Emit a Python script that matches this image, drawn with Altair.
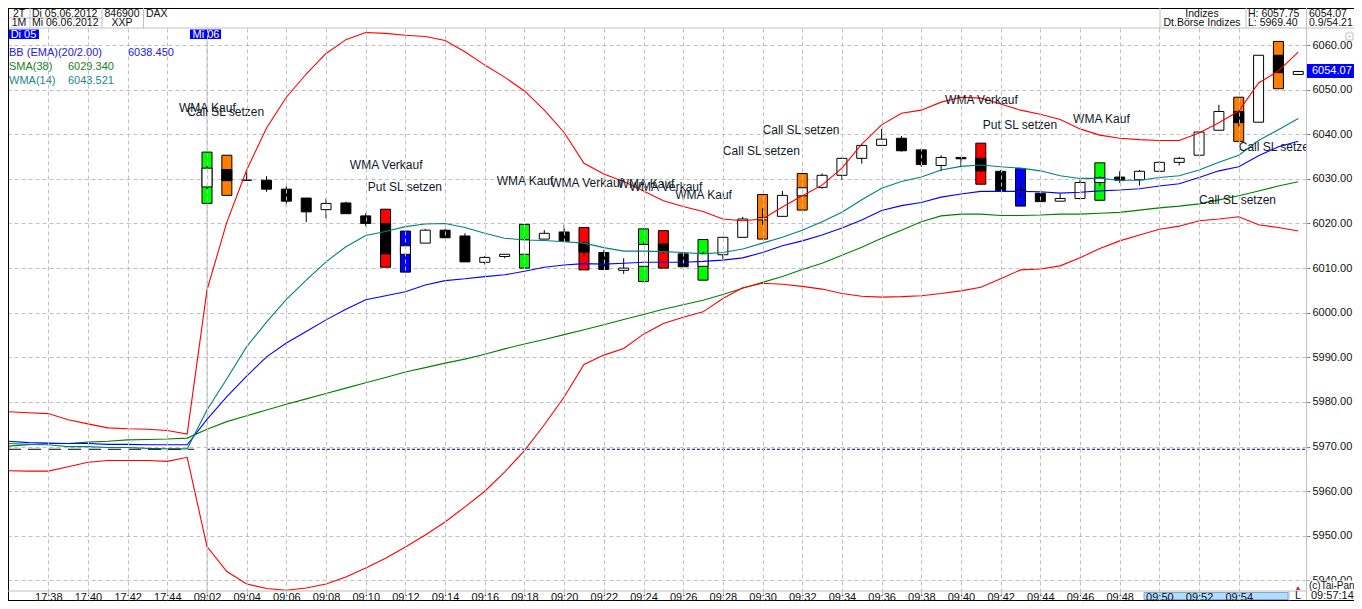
import altair as alt
import pandas as pd

FONT = "Liberation Sans"

# time axis: gaps over night are squeezed out, so bars are addressed by index
tick_values = list(range(-8, 54, 2))
tick_labels = [
    "17:38", "17:40", "17:42", "17:44", "09:02", "09:04", "09:06", "09:08",
    "09:10", "09:12", "09:14", "09:16", "09:18", "09:20", "09:22", "09:24",
    "09:26", "09:28", "09:30", "09:32", "09:34", "09:36", "09:38", "09:40",
    "09:42", "09:44", "09:46", "09:48", "09:50", "09:52", "09:54",
]
price_ticks = list(range(5940, 6070, 10))

line_index = list(range(-10, 56))
bb_upper = [
    5977.8, 5977.6, 5977.4, 5976.0, 5975.1, 5974.2, 5974.0, 5973.9, 5973.6, 5972.8,
    6005.1, 6020.3, 6032.0, 6041.4, 6048.3, 6053.5, 6058.1, 6061.2, 6062.8, 6062.6,
    6062.2, 6061.9, 6061.0, 6058.5, 6055.5, 6052.8, 6049.7, 6045.4, 6040.4, 6033.5,
    6031.1, 6029.4, 6027.3, 6025.1, 6023.8, 6022.7, 6021.0, 6020.6, 6021.0, 6023.7,
    6026.2, 6028.6, 6032.4, 6037.8, 6042.1, 6044.7, 6045.4, 6047.2, 6048.3, 6048.1,
    6046.8, 6045.4, 6044.5, 6043.3, 6041.2, 6039.8, 6039.1, 6038.8, 6038.6, 6038.6,
    6040.3, 6042.6, 6045.2, 6051.5, 6054.2, 6058.4,
]
bb_lower = [
    5964.6, 5964.5, 5964.5, 5965.5, 5966.5, 5966.9, 5966.9, 5966.9, 5966.7, 5967.6,
    5947.6, 5942.0, 5939.2, 5938.2, 5937.8, 5938.3, 5939.2, 5940.8, 5942.8, 5945.0,
    5947.5, 5950.2, 5953.1, 5956.5, 5960.0, 5964.3, 5969.1, 5974.9, 5981.1, 5988.4,
    5990.5, 5992.0, 5995.2, 5997.6, 5999.0, 6000.2, 6003.2, 6005.6, 6006.6, 6006.4,
    6005.9, 6005.3, 6004.3, 6003.7, 6003.5, 6003.6, 6003.8, 6004.3, 6004.9, 6005.7,
    6007.6, 6009.6, 6009.8, 6010.5, 6012.3, 6014.4, 6016.1, 6017.4, 6018.7, 6019.4,
    6020.6, 6021.0, 6021.5, 6019.7, 6019.1, 6018.3,
]
bb_mid = [
    5971.2, 5970.9, 5970.8, 5970.7, 5970.7, 5970.5, 5970.5, 5970.4, 5970.4, 5970.4,
    5976.1, 5981.2, 5985.8, 5990.1, 5993.2, 5995.8, 5998.4, 6000.8, 6002.9, 6003.8,
    6004.7, 6006.2, 6007.2, 6007.6, 6008.1, 6008.5, 6009.3, 6010.2, 6010.7, 6011.0,
    6010.9, 6011.1, 6011.3, 6011.3, 6011.3, 6011.5, 6011.8, 6012.3, 6013.5, 6015.0,
    6016.1, 6017.4, 6019.0, 6020.8, 6022.9, 6024.0, 6024.7, 6025.9, 6026.6, 6027.2,
    6027.2, 6027.2, 6027.1, 6026.8, 6027.0, 6027.3, 6027.5, 6027.8, 6028.4, 6028.9,
    6030.3, 6031.8, 6032.7, 6035.2, 6037.2, 6038.45,
]
wma14 = [
    5970.7, 5970.5, 5970.4, 5970.0, 5970.0, 5969.8, 5969.8, 5969.6, 5969.5, 5969.5,
    5978.2, 5985.2, 5992.4, 5997.9, 6003.0, 6007.3, 6011.4, 6014.8, 6017.3, 6018.2,
    6019.3, 6019.9, 6020.0, 6019.1, 6017.8, 6016.7, 6016.3, 6016.2, 6015.9, 6015.6,
    6014.6, 6013.8, 6013.8, 6013.7, 6013.5, 6013.2, 6013.5, 6014.3, 6015.6, 6016.9,
    6018.5, 6020.4, 6022.5, 6025.3, 6027.9, 6029.4, 6030.4, 6032.0, 6032.8, 6033.1,
    6032.7, 6032.4, 6031.8, 6030.7, 6030.1, 6030.1, 6029.7, 6029.7, 6030.3, 6030.7,
    6032.0, 6033.7, 6035.3, 6038.6, 6041.0, 6043.52,
]
sma38 = [
    5970.1, 5970.4, 5970.7, 5970.7, 5971.0, 5971.2, 5971.5, 5971.6, 5971.7, 5971.9,
    5973.9, 5975.6, 5976.9, 5978.2, 5979.5, 5980.7, 5981.9, 5983.1, 5984.3, 5985.5,
    5986.7, 5987.7, 5988.7, 5989.6, 5990.7, 5991.9, 5993.0, 5994.0, 5995.1, 5996.2,
    5997.3, 5998.5, 5999.6, 6000.8, 6001.8, 6002.8, 6004.1, 6005.5, 6006.8, 6008.1,
    6009.7, 6011.1, 6012.9, 6014.7, 6016.7, 6018.5, 6020.4, 6021.7, 6022.1, 6022.1,
    6021.8, 6021.8, 6021.9, 6022.1, 6022.1, 6022.3, 6022.5, 6023.0, 6023.5, 6023.9,
    6024.4, 6025.3, 6026.2, 6027.3, 6028.4, 6029.34,
]

bar_open = [
    6028.2, 6032.1, 6029.7, 6029.7, 6027.7, 6025.7, 6023.1, 6024.6, 6021.7, 6020.0,
    6013.1, 6015.6, 6018.5, 6017.2, 6011.3, 6012.6, 6013.1, 6016.5, 6018.1, 6015.6,
    6013.5, 6009.5, 6010.4, 6015.4, 6013.2, 6010.4, 6013.0, 6016.9, 6020.8, 6021.6,
    6026.2, 6028.1, 6030.8, 6034.6, 6037.5, 6039.1, 6036.5, 6033.0, 6034.8, 6034.6,
    6031.7, 6027.5, 6026.8, 6025.0, 6025.6, 6029.2, 6030.4, 6029.8, 6031.7, 6033.7,
    6035.3, 6040.9, 6045.1, 6042.7, 6057.7, 6053.4,
]
bar_close = [
    6032.4, 6029.6, 6029.7, 6027.7, 6025.0, 6022.6, 6024.5, 6022.2, 6020.0, 6013.2,
    6015.0, 6018.5, 6016.8, 6011.4, 6012.4, 6013.1, 6016.4, 6017.8, 6016.0, 6013.6,
    6009.7, 6010.0, 6015.3, 6013.7, 6010.3, 6013.3, 6016.9, 6021.0, 6021.3, 6026.3,
    6028.0, 6030.8, 6034.6, 6037.5, 6038.9, 6036.3, 6033.2, 6034.8, 6034.5, 6031.8,
    6027.3, 6027.4, 6024.9, 6025.6, 6029.2, 6030.3, 6029.7, 6031.7, 6033.7, 6034.6,
    6040.5, 6045.1, 6042.6, 6057.7, 6053.8, 6054.07,
]
bar_high = [
    6032.9, 6032.1, 6031.5, 6030.6, 6028.4, 6025.7, 6025.6, 6024.9, 6022.3, 6020.0,
    6015.6, 6018.8, 6018.8, 6017.8, 6012.7, 6013.1, 6016.7, 6018.5, 6019.7, 6016.1,
    6014.1, 6012.2, 6015.9, 6015.4, 6013.6, 6013.6, 6017.0, 6021.5, 6023.4, 6027.3,
    6028.0, 6031.2, 6034.8, 6037.8, 6041.2, 6039.6, 6036.8, 6035.3, 6034.8, 6034.8,
    6032.0, 6029.4, 6026.8, 6026.7, 6029.7, 6030.6, 6031.7, 6032.0, 6034.0, 6034.9,
    6040.5, 6046.6, 6045.4, 6057.75, 6057.7, 6054.07,
]
bar_low = [
    6027.7, 6029.6, 6029.7, 6027.1, 6023.9, 6020.3, 6021.1, 6022.2, 6019.4, 6013.2,
    6012.3, 6015.6, 6016.8, 6011.4, 6010.8, 6012.2, 6013.1, 6016.5, 6016.0, 6012.7,
    6009.6, 6008.7, 6010.4, 6013.2, 6010.3, 6010.4, 6012.0, 6016.9, 6019.7, 6021.6,
    6026.2, 6027.8, 6029.7, 6033.4, 6037.5, 6036.1, 6032.7, 6031.7, 6032.6, 6031.5,
    6027.3, 6025.9, 6024.9, 6025.0, 6025.4, 6028.4, 6029.1, 6028.5, 6031.7, 6033.0,
    6035.3, 6040.9, 6041.7, 6042.7, 6053.8, 6053.4,
]

# signals: the coloured box behind a bar and the note written near it
signal_index = [0, 1, 9, 10, 16, 19, 22, 23, 25, 28, 30, 39, 41, 45, 52, 54]
signal_top = [
    6036.0, 6035.3, 6023.2, 6018.3, 6019.8, 6019.1, 6018.8, 6018.4,
    6016.4, 6026.5, 6031.2, 6038.0, 6032.3, 6033.6, 6048.3, 6060.8,
]
signal_bottom = [
    6024.5, 6026.3, 6010.2, 6009.1, 6010.0, 6009.6, 6007.0, 6010.0,
    6007.3, 6016.5, 6023.0, 6028.8, 6023.9, 6025.2, 6038.4, 6050.2,
]
signal_text = [
    "WMA Kauf", "Call SL setzen", "WMA Verkauf", "Put SL setzen",
    "WMA Kauf", "WMA Verkauf", "WMA Kauf", "WMA Verkauf",
    "WMA Kauf", "Call SL setzen", "Call SL setzen", "WMA Verkauf",
    "Put SL setzen", "WMA Kauf", "Call SL setzen", "Call SL setzen",
]
note_index = [
    -1.41, -1.0, 7.2, 8.1, 14.6, 17.3, 20.7, 21.3,
    23.6, 26.0, 28.0, 37.2, 39.1, 43.65, 50.0, 52.0,
]
note_price = [
    6045.9, 6045.0, 6033.1, 6028.2, 6029.5, 6029.1, 6028.8, 6028.2,
    6026.4, 6036.2, 6041.0, 6047.7, 6042.1, 6043.4, 6025.3, 6037.1,
]

day_low = 5969.40

lines = pd.DataFrame(
    {"i": line_index, "bb_upper": bb_upper, "bb_lower": bb_lower,
     "bb_mid": bb_mid, "wma14": wma14, "sma38": sma38}
)
bars = pd.DataFrame(
    {"i": range(len(bar_open)), "open": bar_open, "close": bar_close,
     "high": bar_high, "low": bar_low}
)
signals = pd.DataFrame(
    {"i": signal_index, "top": signal_top, "bottom": signal_bottom, "kind": signal_text,
     "note_i": note_index, "note_price": note_price}
)

# padding=0: bar marks otherwise pad a continuous x scale by a few pixels
x_scale = alt.Scale(domain=[-10.03, 55.39], nice=False, zero=False, padding=0)
y_scale = alt.Scale(domain=[5937.64, 6063.81], nice=False, zero=False)
x_axis = alt.Axis(
    values=tick_values,
    labelExpr="[" + ",".join(f"'{t}'" for t in tick_labels) + "][(datum.value + 8) / 2]",
    title=None, grid=True, gridColor="#c0c0c0", gridDash=[4, 3], domain=False,
    ticks=True, tickSize=9, tickColor="#c0c0c0", tickDash=[4, 3],
    labelPadding=-9, labelFont=FONT, labelFontSize=11, labelColor="#101010",
    labelOverlap=False, labelBound=False, labelFlush=False, zindex=1,
)
y_axis = alt.Axis(
    orient="right", values=price_ticks, format=".2f", title=None,
    grid=True, gridColor="#c0c0c0", gridDash=[4, 3], domainColor="#c0c0c0",
    tickSize=4, tickColor="#808080", labelPadding=2, labelFont=FONT, labelFontSize=11,
    labelColor="#101010", labelOverlap=False, labelBound=False,
)


def X(field):
    return alt.X(f"{field}:Q", scale=x_scale, axis=x_axis)


def Y(field):
    return alt.Y(f"{field}:Q", scale=y_scale, axis=y_axis)


def line(field, color):
    return alt.Chart(lines).mark_line(color=color, strokeWidth=1.1).encode(x=X("i"), y=Y(field))


# fixed panel pieces are placed in screen pixels of the reference
dummy = pd.DataFrame({"a": [0]})


def px(v):
    return alt.value(v - 8)


def py(v):
    return alt.value(v - 28)


def label(text, x, y, color="#101010", align="left", size=11):
    return alt.Chart(dummy).mark_text(
        text=text, align=align, baseline="middle", font=FONT, fontSize=size, color=color
    ).encode(x=px(x), y=py(y))


def hline(x1, x2, y, color="#c0c0c0", width=1):
    return alt.Chart(dummy).mark_rule(color=color, strokeWidth=width).encode(
        x=px(x1), x2=px(x2), y=py(y)
    )


def vline(x, y1, y2, color="#c0c0c0", width=1):
    return alt.Chart(dummy).mark_rule(color=color, strokeWidth=width).encode(
        x=px(x), y=py(y1), y2=py(y2)
    )


def box(x1, x2, y1, y2, fill, stroke=None):
    props = {"fill": fill}
    if stroke:
        props["stroke"] = stroke
    return alt.Chart(dummy).mark_rect(**props).encode(
        x=px(x1), x2=px(x2), y=py(y1), y2=py(y2)
    )


open_line = alt.Chart(pd.DataFrame({"i": [0]})).mark_rule(color="#c0c0c0").encode(
    x=X("i"), y=alt.value(0), y2=alt.value(572)
)
boxes = alt.Chart(signals).mark_bar(size=10, stroke="black", strokeWidth=1).encode(
    x=X("i"),
    y=Y("top"),
    y2="bottom:Q",
    color=alt.Color(
        "kind:N",
        scale=alt.Scale(
            domain=["WMA Kauf", "WMA Verkauf", "Call SL setzen", "Put SL setzen"],
            range=["#00ff00", "#ff0000", "#ff8000", "#0000ff"],
        ),
        legend=None,
    ),
)
wicks = alt.Chart(bars).mark_rule(color="black").encode(x=X("i"), y=Y("high"), y2="low:Q")
bodies = alt.Chart(bars).mark_bar(size=10, stroke="black", strokeWidth=1).encode(
    x=X("i"),
    y=Y("open"),
    y2="close:Q",
    fill=alt.condition("datum.close > datum.open", alt.value("white"), alt.value("black")),
)
low_before = alt.Chart(pd.DataFrame({"a": [-10.03], "b": [-0.65], "p": [day_low]})).mark_rule(
    color="black", strokeDash=[13, 7]
).encode(x=X("a"), x2="b:Q", y=Y("p"))
low_after = alt.Chart(pd.DataFrame({"a": [0], "b": [55.39], "p": [day_low]})).mark_rule(
    color="#000090", strokeDash=[3, 2]
).encode(x=X("a"), x2="b:Q", y=Y("p"))
notes = alt.Chart(signals).mark_text(
    align="left", baseline="middle", font=FONT, fontSize=12, color="#101828", clip=True
).encode(x=X("note_i"), y=Y("note_price"), text="kind:N")

frame = [
    box(8, 1354, 8, 28, "white"),
    hline(8, 1354, 8.5, color="black"),
    hline(8, 1354, 28),
    hline(8, 102, 18),
    vline(30, 8, 28),
    vline(102, 8, 28),
    vline(143.5, 8, 28),
    vline(1160, 8, 28),
    vline(1246, 8, 28),
    vline(1306.5, 8, 600.5),
    vline(8.5, 8, 600.5, color="black"),
    hline(8, 1306, 591),
    hline(8, 1354, 600.5, color="black"),
    vline(1289, 591, 600.5),
    label("2T", 19, 14, align="center", size=10.5),
    label("1M", 19, 23, align="center", size=10.5),
    label("Di 05.06.2012", 32, 14, size=10.5),
    label("Mi 06.06.2012", 32, 23, size=10.5),
    label("846900", 122, 14, align="center", size=10.5),
    label("XXP", 122, 23, align="center", size=10.5),
    label("DAX", 146, 14, size=10.5),
    label("Indizes", 1202, 14, align="center", size=10.5),
    label("Dt.Börse Indizes", 1202, 23, align="center", size=10.5),
    label("H: 6057.75", 1248, 14, size=10.5),
    label("L: 5969.40", 1248, 23, size=10.5),
    label("6054.07", 1309, 14, size=10.5),
    label("0.9/54.21", 1309, 23, size=10.5),
    box(9, 39, 29.5, 39, "#0000ff"),
    label("Di 05", 23.5, 34.5, color="white", align="center"),
    box(190, 221, 29.5, 39, "#0000ff"),
    label("Mi 06", 206, 34.5, color="white", align="center"),
    label("BB (EMA)(20/2.00)", 9, 53, color="#2020e0"),
    label("6038.450", 128, 53, color="#2020e0"),
    label("SMA(38)", 9, 67, color="#208020"),
    label("6029.340", 68, 67, color="#208020"),
    label("WMA(14)", 9, 81, color="#208888"),
    label("6043.521", 68, 81, color="#208888"),
    box(1307, 1354, 64, 78, "#0000ff"),
    label("6054.07", 1312, 71, color="white"),
    box(1346, 1353, 33, 40, "white", stroke="#c0c0c0"),
    hline(1348, 1351, 36.5),
    box(1307.5, 1354, 580.5, 590.5, "white"),
    label("(c)Tai-Pan", 1309, 585.5, size=10),
    box(1144, 1288, 592.5, 599.5, "#b5dcfb", stroke="#7ea8e0"),
    label("L", 1295, 596),
    label("09:57:14", 1311, 596),
    alt.Chart(dummy).mark_point(
        shape="triangle-up", filled=True, size=20, color="#c03030", opacity=1
    ).encode(x=px(1298), y=py(588)),
]

chart = alt.layer(
    open_line,
    boxes,
    wicks,
    bodies,
    line("sma38", "#008000"),
    line("bb_upper", "#ff0000"),
    line("bb_lower", "#ff0000"),
    line("bb_mid", "#0000ff"),
    line("wma14", "#008080"),
    low_before,
    low_after,
    notes,
    *frame,
).properties(
    width=1298,
    height=563,
    autosize=alt.AutoSizeParams(type="none"),
    padding={"left": 0, "top": 20, "right": 48, "bottom": 10},
).configure_view(strokeWidth=0)

chart.save("out.html", embed_options={"renderer": "svg", "actions": False})
